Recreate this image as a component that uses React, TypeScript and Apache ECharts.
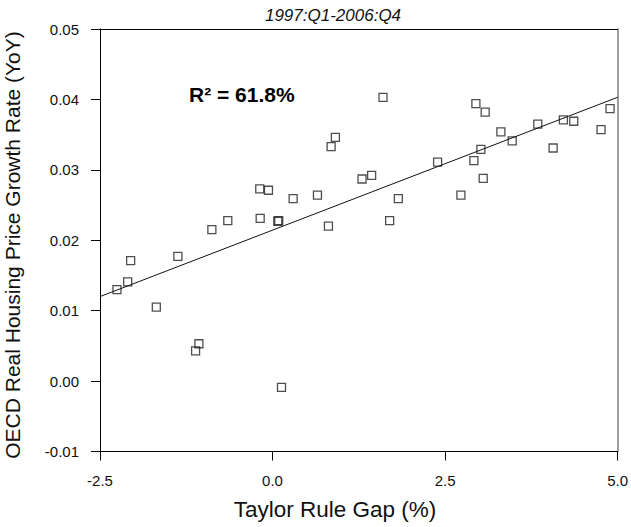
import React, { useEffect, useRef } from "react";
import * as echarts from "echarts";

const gapX = [
  -2.254, -2.099, -2.056, -1.684, -1.371, -1.115, -1.067, -0.879, -0.648, -0.185,
  -0.179, -0.059, 0.076, 0.09, 0.13, 0.299, 0.651, 0.81, 0.849, 0.911,
  1.297, 1.436, 1.601, 1.697, 1.823, 2.392, 2.73, 2.918, 2.947, 3.019,
  3.053, 3.082, 3.309, 3.473, 3.844, 4.066, 4.215, 4.365, 4.76, 4.891,
];
const growthY = [
  0.013, 0.0141, 0.0171, 0.0105, 0.0177, 0.0043, 0.0053, 0.0215, 0.0228, 0.0273,
  0.0231, 0.0271, 0.0227, 0.0228, -0.0009, 0.0259, 0.0264, 0.022, 0.0333, 0.0346,
  0.0287, 0.0292, 0.0403, 0.0228, 0.0259, 0.0311, 0.0264, 0.0313, 0.0394, 0.0329,
  0.0288, 0.0382, 0.0354, 0.0341, 0.0365, 0.0331, 0.0371, 0.0369, 0.0357, 0.0387,
];
const fitX = [-2.5, 5.0];
const fitY = [0.012, 0.0403];
const xTicks = { min: -2.5, max: 5.0, interval: 2.5 };
const yTicks = { min: -0.01, max: 0.05, interval: 0.01 };
const titleText = "1997:Q1-2006:Q4";
const xName = "Taylor Rule Gap (%)";
const yName = "OECD Real Housing Price Growth Rate (YoY)";
const r2Text = "R² = 61.8%";

const FONT = "'Liberation Sans', Arial, Helvetica, sans-serif";

export default function App() {
  const ref = useRef<HTMLDivElement>(null);
  useEffect(() => {
    if (!ref.current) return;
    const chart = echarts.init(ref.current, null, { renderer: "svg" });
    const points = gapX.map((x, i) => [x, growthY[i]]);
    const line = fitX.map((x, i) => [x, fitY[i]]);
    const labelStyle = { color: "#111", fontSize: 15, fontFamily: FONT };
    chart.setOption({
      animation: false,
      backgroundColor: "#fff",
      grid: { left: 100, top: 29, width: 518.5, height: 422.5, containLabel: false },
      xAxis: [
        {
          type: "value",
          min: xTicks.min,
          max: xTicks.max,
          interval: xTicks.interval,
          position: "bottom",
          axisLine: { show: true, onZero: false, lineStyle: { color: "#000", width: 1 } },
          axisTick: { show: true, length: 9, lineStyle: { color: "#000" } },
          axisLabel: { ...labelStyle, margin: 21, formatter: (v: number) => v.toFixed(1) },
          splitLine: { show: false },
        },
        {
          type: "value",
          min: xTicks.min,
          max: xTicks.max,
          position: "top",
          axisLine: { show: true, onZero: false, lineStyle: { color: "#000", width: 1 } },
          axisTick: { show: false },
          axisLabel: { show: false },
          splitLine: { show: false },
        },
      ],
      yAxis: [
        {
          type: "value",
          min: yTicks.min,
          max: yTicks.max,
          interval: yTicks.interval,
          position: "left",
          axisLine: { show: true, onZero: false, lineStyle: { color: "#000", width: 1 } },
          axisTick: { show: true, length: 9, lineStyle: { color: "#000" } },
          axisLabel: { ...labelStyle, margin: 21, formatter: (v: number) => v.toFixed(2) },
          splitLine: { show: false },
        },
        {
          type: "value",
          min: yTicks.min,
          max: yTicks.max,
          position: "right",
          axisLine: { show: true, onZero: false, lineStyle: { color: "#808080", width: 1.5 } },
          axisTick: { show: false },
          axisLabel: { show: false },
          splitLine: { show: false },
        },
      ],
      series: [
        {
          type: "line",
          data: line,
          xAxisIndex: 0,
          yAxisIndex: 0,
          showSymbol: false,
          symbol: "none",
          lineStyle: { color: "#111", width: 1 },
          silent: true,
        },
        {
          type: "scatter",
          data: points,
          xAxisIndex: 0,
          yAxisIndex: 0,
          symbol: "rect",
          symbolSize: 8,
          itemStyle: { color: "rgba(0,0,0,0)", borderColor: "#222", borderWidth: 1.3 },
        },
      ],
      graphic: [
        {
          type: "text",
          x: 333,
          y: 15,
          style: {
            text: titleText,
            fill: "#111",
            fontSize: 17,
            fontStyle: "italic",
            fontFamily: FONT,
            align: "center",
            verticalAlign: "middle",
            textAlign: "center",
            textVerticalAlign: "middle",
          },
        },
        {
          type: "text",
          x: 335,
          y: 509,
          style: {
            text: xName,
            fill: "#111",
            fontSize: 22.5,
            fontFamily: FONT,
            align: "center",
            verticalAlign: "middle",
            textAlign: "center",
            textVerticalAlign: "middle",
          },
        },
        {
          type: "text",
          x: 12,
          y: 245,
          rotation: Math.PI / 2,
          style: {
            text: yName,
            fill: "#111",
            fontSize: 21,
            fontFamily: FONT,
            align: "center",
            verticalAlign: "middle",
            textAlign: "center",
            textVerticalAlign: "middle",
          },
        },
        {
          type: "text",
          x: 189,
          y: 94,
          style: {
            text: r2Text,
            fill: "#000",
            fontSize: 21,
            fontWeight: "bold",
            fontFamily: FONT,
            align: "left",
            verticalAlign: "middle",
            textAlign: "left",
            textVerticalAlign: "middle",
          },
        },
      ],
    });
    return () => chart.dispose();
  }, []);
  return (
    <div
      ref={ref}
      style={{ position: "fixed", left: 0, top: 0, width: 631, height: 527, background: "#fff" }}
    />
  );
}
